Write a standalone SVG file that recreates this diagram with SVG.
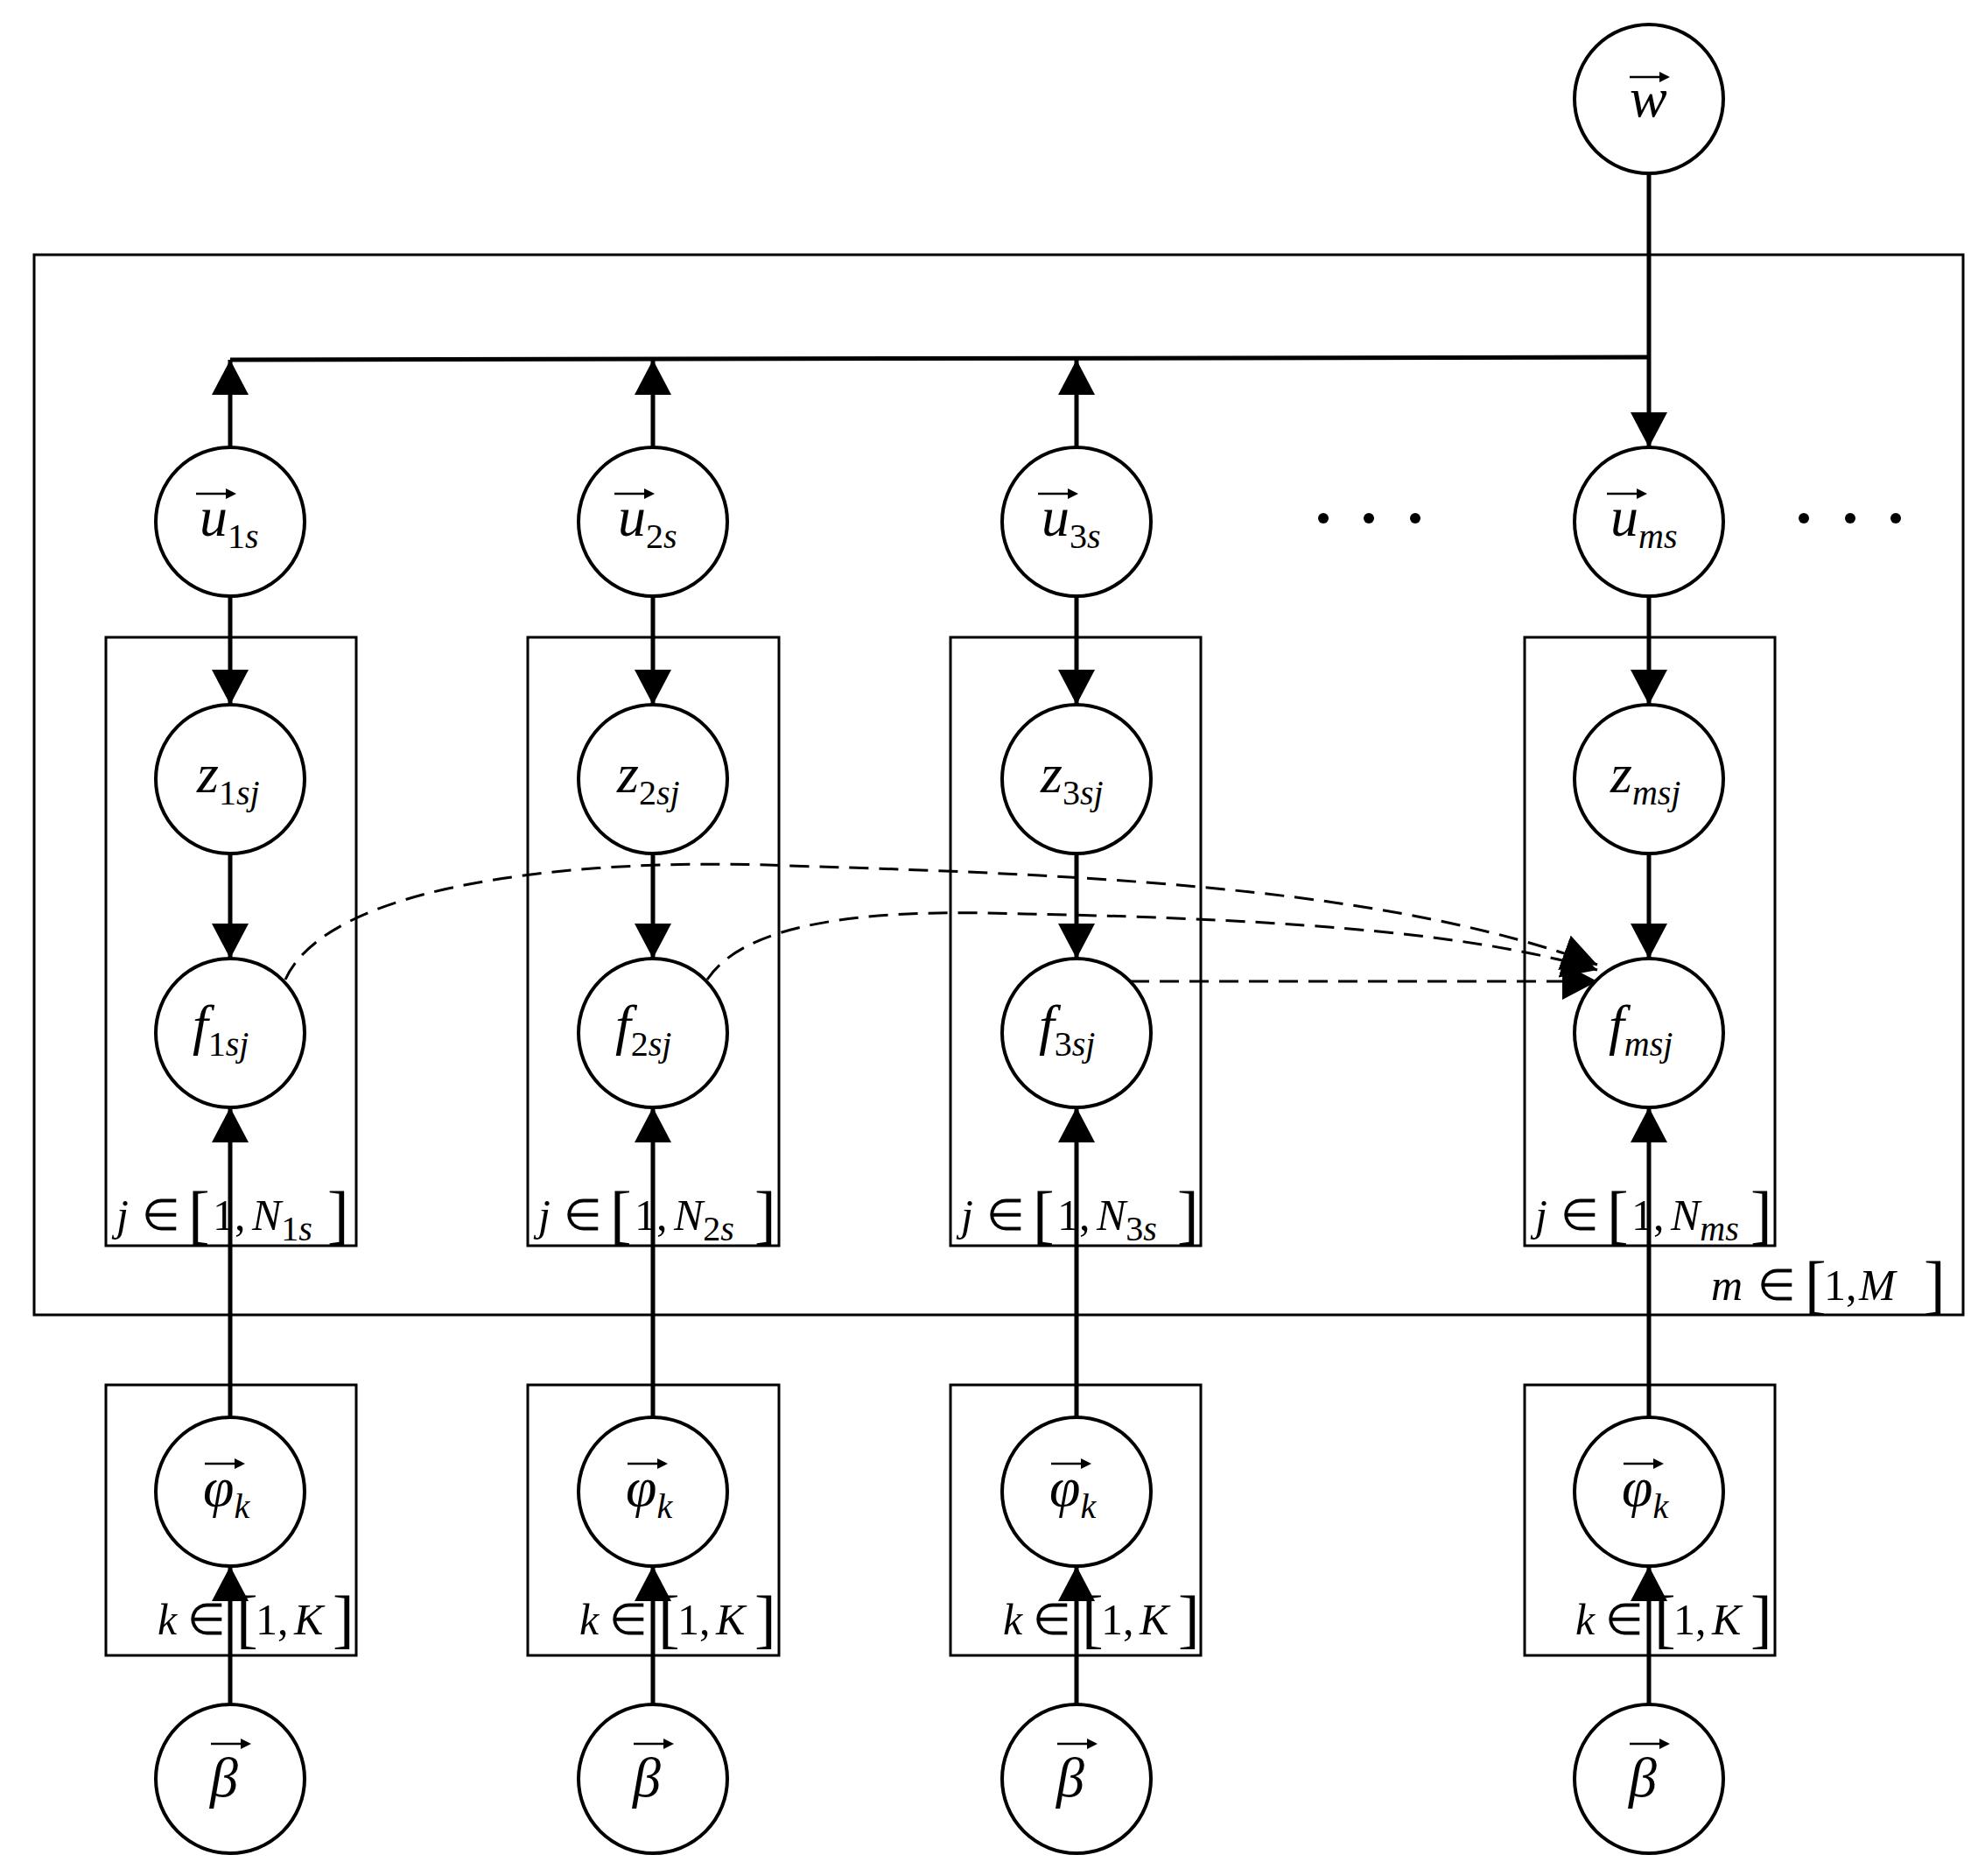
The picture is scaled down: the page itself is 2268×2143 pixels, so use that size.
<svg xmlns="http://www.w3.org/2000/svg" width="2268" height="2143" viewBox="0 0 2268 2143">
<style>
.n{fill:#fff;stroke:#000;stroke-width:4}
.b{fill:none;stroke:#000;stroke-width:3}
.e{stroke:#000;stroke-width:5;fill:none}
.d{stroke:#000;stroke-width:3;fill:none;stroke-dasharray:22 12}
text{font-family:"Liberation Serif",serif;font-style:italic;fill:#000}
.v{font-size:64px}.s{font-size:40px}.r{font-style:normal}
.l{font-size:50px}.k{font-size:74px;font-style:normal}
</style>
<defs>
<marker id="a" markerUnits="userSpaceOnUse" markerWidth="42" markerHeight="42" refX="40" refY="21" orient="auto"><path d="M0,0L40,21L0,42z"/></marker>
<g id="vec"><path d="M-22,0H18" stroke="#000" stroke-width="2.5"/><path d="M12,-6L24,0L12,6z"/></g>
</defs>
<rect class="b" x="39" y="291" width="2204" height="1211"/>
<g id="plates">
<rect class="b" x="121" y="728" width="286" height="695"/><rect class="b" x="603" y="728" width="287" height="695"/><rect class="b" x="1086" y="728" width="286" height="695"/><rect class="b" x="1742" y="728" width="286" height="695"/>
<rect class="b" x="121" y="1582" width="286" height="309"/><rect class="b" x="603" y="1582" width="287" height="309"/><rect class="b" x="1086" y="1582" width="286" height="309"/><rect class="b" x="1742" y="1582" width="286" height="309"/>
</g>
<g id="connectors">
<path class="e" d="M263,411L1884,408"/>
<path class="e" d="M1884,198V511" marker-end="url(#a)"/>
<path class="e" d="M263,511V411" marker-end="url(#a)"/><path class="e" d="M746,511V411" marker-end="url(#a)"/><path class="e" d="M1230,511V411" marker-end="url(#a)"/>
<path class="e" d="M263,681V805" marker-end="url(#a)"/><path class="e" d="M746,681V805" marker-end="url(#a)"/><path class="e" d="M1230,681V805" marker-end="url(#a)"/><path class="e" d="M1884,681V805" marker-end="url(#a)"/>
<path class="e" d="M263,975V1095" marker-end="url(#a)"/><path class="e" d="M746,975V1095" marker-end="url(#a)"/><path class="e" d="M1230,975V1095" marker-end="url(#a)"/><path class="e" d="M1884,975V1095" marker-end="url(#a)"/>
<path class="e" d="M263,1619V1265" marker-end="url(#a)"/><path class="e" d="M746,1619V1265" marker-end="url(#a)"/><path class="e" d="M1230,1619V1265" marker-end="url(#a)"/><path class="e" d="M1884,1619V1265" marker-end="url(#a)"/>
<path class="e" d="M263,1947V1789" marker-end="url(#a)"/><path class="e" d="M746,1947V1789" marker-end="url(#a)"/><path class="e" d="M1230,1947V1789" marker-end="url(#a)"/><path class="e" d="M1884,1947V1789" marker-end="url(#a)"/>
<path class="d" d="M326,1119C380,1000 700,980 900,989C1300,1000 1600,1020 1825,1102" marker-end="url(#a)"/>
<path class="d" d="M808,1119C860,1040 1050,1040 1170,1044C1500,1050 1700,1070 1825,1108" marker-end="url(#a)"/>
<path class="d" d="M1291,1121H1825" marker-end="url(#a)"/>
</g>
<g id="w"><circle class="n" cx="1884" cy="113" r="85"/><text class="v" x="1862" y="133">w</text><use href="#vec" x="1884" y="88"/></g>
<g id="u1"><circle class="n" cx="263" cy="596" r="85"/><text x="228" y="612"><tspan class="v">u</tspan><tspan class="s r" dy="14">1</tspan><tspan class="s">s</tspan></text><use href="#vec" x="246" y="564"/></g>
<g id="u2"><circle class="n" cx="746" cy="596" r="85"/><text x="706" y="612"><tspan class="v">u</tspan><tspan class="s r" dy="14">2</tspan><tspan class="s">s</tspan></text><use href="#vec" x="724" y="564"/></g>
<g id="u3"><circle class="n" cx="1230" cy="596" r="85"/><text x="1190" y="612"><tspan class="v">u</tspan><tspan class="s r" dy="14">3</tspan><tspan class="s">s</tspan></text><use href="#vec" x="1208" y="564"/></g>
<g id="um"><circle class="n" cx="1884" cy="596" r="85"/><text x="1840" y="612"><tspan class="v">u</tspan><tspan class="s" dy="14">ms</tspan></text><use href="#vec" x="1858" y="564"/></g>
<g id="z1"><circle class="n" cx="263" cy="890" r="85"/><text x="225" y="905"><tspan class="v">z</tspan><tspan class="s r" dy="14">1</tspan><tspan class="s">sj</tspan></text></g>
<g id="z2"><circle class="n" cx="746" cy="890" r="85"/><text x="705" y="905"><tspan class="v">z</tspan><tspan class="s r" dy="14">2</tspan><tspan class="s">sj</tspan></text></g>
<g id="z3"><circle class="n" cx="1230" cy="890" r="85"/><text x="1189" y="905"><tspan class="v">z</tspan><tspan class="s r" dy="14">3</tspan><tspan class="s">sj</tspan></text></g>
<g id="zm"><circle class="n" cx="1884" cy="890" r="85"/><text x="1840" y="905"><tspan class="v">z</tspan><tspan class="s" dy="14">msj</tspan></text></g>
<g id="f1"><circle class="n" cx="263" cy="1180" r="85"/><text x="220" y="1192"><tspan class="v">f</tspan><tspan class="s r" dy="14">1</tspan><tspan class="s">sj</tspan></text></g>
<g id="f2"><circle class="n" cx="746" cy="1180" r="85"/><text x="703" y="1192"><tspan class="v">f</tspan><tspan class="s r" dy="14">2</tspan><tspan class="s">sj</tspan></text></g>
<g id="f3"><circle class="n" cx="1230" cy="1180" r="85"/><text x="1187" y="1192"><tspan class="v">f</tspan><tspan class="s r" dy="14">3</tspan><tspan class="s">sj</tspan></text></g>
<g id="fm"><circle class="n" cx="1884" cy="1180" r="85"/><text x="1838" y="1192"><tspan class="v">f</tspan><tspan class="s" dy="14">msj</tspan></text></g>
<g id="p1"><circle class="n" cx="263" cy="1704" r="85"/><text x="232" y="1720"><tspan class="v">φ</tspan><tspan class="s" dy="14">k</tspan></text><use href="#vec" x="256" y="1672"/></g>
<g id="p2"><circle class="n" cx="746" cy="1704" r="85"/><text x="715" y="1720"><tspan class="v">φ</tspan><tspan class="s" dy="14">k</tspan></text><use href="#vec" x="739" y="1672"/></g>
<g id="p3"><circle class="n" cx="1230" cy="1704" r="85"/><text x="1199" y="1720"><tspan class="v">φ</tspan><tspan class="s" dy="14">k</tspan></text><use href="#vec" x="1223" y="1672"/></g>
<g id="pm"><circle class="n" cx="1884" cy="1704" r="85"/><text x="1853" y="1720"><tspan class="v">φ</tspan><tspan class="s" dy="14">k</tspan></text><use href="#vec" x="1877" y="1672"/></g>
<g id="b1"><circle class="n" cx="263" cy="2032" r="85"/><text class="v" x="240" y="2052">β</text><use href="#vec" x="263" y="1992"/></g>
<g id="b2"><circle class="n" cx="746" cy="2032" r="85"/><text class="v" x="723" y="2052">β</text><use href="#vec" x="746" y="1992"/></g>
<g id="b3"><circle class="n" cx="1230" cy="2032" r="85"/><text class="v" x="1207" y="2052">β</text><use href="#vec" x="1230" y="1992"/></g>
<g id="bm"><circle class="n" cx="1884" cy="2032" r="85"/><text class="v" x="1861" y="2052">β</text><use href="#vec" x="1884" y="1992"/></g>
<g id="dots"><circle cx="1512" cy="592" r="6"/><circle cx="1564" cy="592" r="6"/><circle cx="1617" cy="592" r="6"/><circle cx="2061" cy="592" r="6"/><circle cx="2114" cy="592" r="6"/><circle cx="2166" cy="592" r="6"/></g>
<g id="labels">
<text x="133" y="1405"><tspan class="l">j</tspan><tspan class="l r" x="162">∈</tspan><tspan class="k" x="215" y="1412">[</tspan><tspan class="l r" x="243" y="1405">1,</tspan><tspan class="l" x="288">N</tspan><tspan class="s r" dy="12">1</tspan><tspan class="s">s</tspan><tspan class="k" x="374" y="1412">]</tspan></text>
<text x="615" y="1405"><tspan class="l">j</tspan><tspan class="l r" x="644">∈</tspan><tspan class="k" x="697" y="1412">[</tspan><tspan class="l r" x="725" y="1405">1,</tspan><tspan class="l" x="770">N</tspan><tspan class="s r" dy="12">2</tspan><tspan class="s">s</tspan><tspan class="k" x="862" y="1412">]</tspan></text>
<text x="1098" y="1405"><tspan class="l">j</tspan><tspan class="l r" x="1127">∈</tspan><tspan class="k" x="1180" y="1412">[</tspan><tspan class="l r" x="1208" y="1405">1,</tspan><tspan class="l" x="1253">N</tspan><tspan class="s r" dy="12">3</tspan><tspan class="s">s</tspan><tspan class="k" x="1345" y="1412">]</tspan></text>
<text x="1754" y="1405"><tspan class="l">j</tspan><tspan class="l r" x="1783">∈</tspan><tspan class="k" x="1836" y="1412">[</tspan><tspan class="l r" x="1864" y="1405">1,</tspan><tspan class="l" x="1909">N</tspan><tspan class="s" dy="12">ms</tspan><tspan class="k" x="2000" y="1412">]</tspan></text>
<text x="1955" y="1485"><tspan class="l">m</tspan><tspan class="l r" x="2008">∈</tspan><tspan class="k" x="2062" y="1492">[</tspan><tspan class="l r" x="2084" y="1485">1,</tspan><tspan class="l" x="2124">M</tspan><tspan class="k" x="2198" y="1492">]</tspan></text>
<text x="180" y="1867"><tspan class="l">k</tspan><tspan class="l r" x="214">∈</tspan><tspan class="k" x="270" y="1874">[</tspan><tspan class="l r" x="292" y="1867">1,</tspan><tspan class="l" x="336">K</tspan><tspan class="k" x="380" y="1874">]</tspan></text>
<text x="662" y="1867"><tspan class="l">k</tspan><tspan class="l r" x="696">∈</tspan><tspan class="k" x="752" y="1874">[</tspan><tspan class="l r" x="774" y="1867">1,</tspan><tspan class="l" x="818">K</tspan><tspan class="k" x="862" y="1874">]</tspan></text>
<text x="1146" y="1867"><tspan class="l">k</tspan><tspan class="l r" x="1180">∈</tspan><tspan class="k" x="1236" y="1874">[</tspan><tspan class="l r" x="1258" y="1867">1,</tspan><tspan class="l" x="1302">K</tspan><tspan class="k" x="1346" y="1874">]</tspan></text>
<text x="1800" y="1867"><tspan class="l">k</tspan><tspan class="l r" x="1834">∈</tspan><tspan class="k" x="1890" y="1874">[</tspan><tspan class="l r" x="1912" y="1867">1,</tspan><tspan class="l" x="1956">K</tspan><tspan class="k" x="2000" y="1874">]</tspan></text>
</g>
</svg>
